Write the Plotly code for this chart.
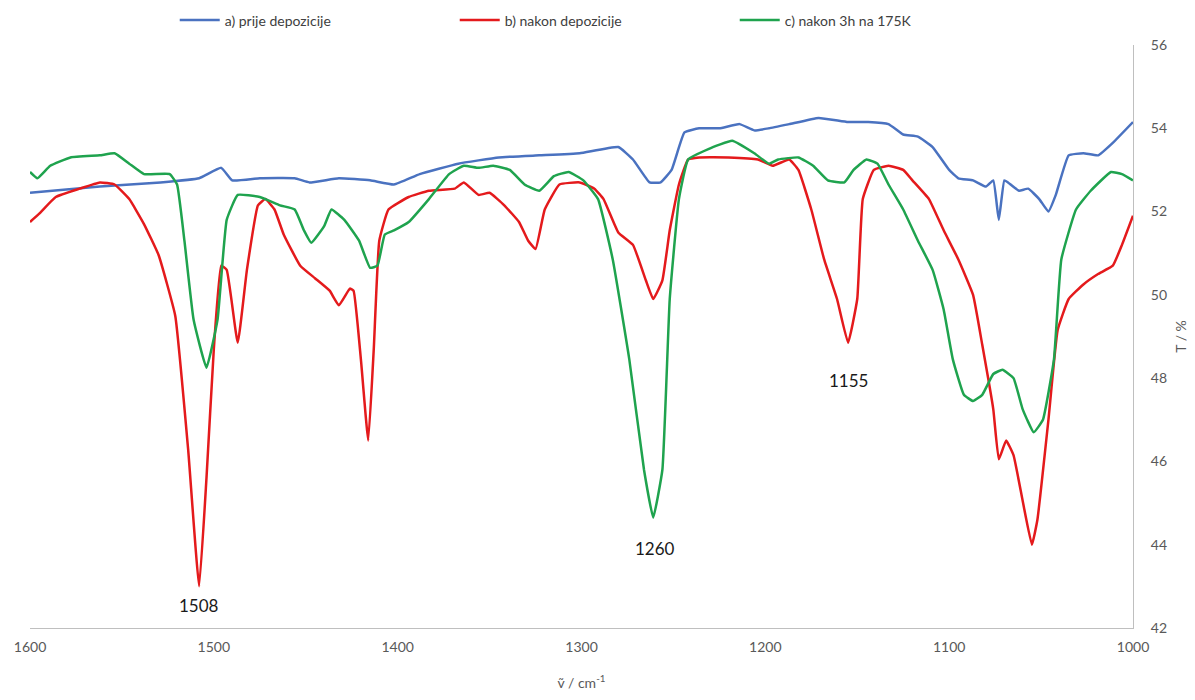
import plotly.graph_objects as go

# a) prije depozicije
wn_a = [1600, 1562, 1529, 1508, 1496, 1490, 1475, 1456, 1448, 1432, 1415, 1402, 1388, 1367, 1345,
        1323, 1301, 1280, 1272, 1263, 1257, 1251, 1244, 1236, 1225, 1214, 1206, 1198, 1187, 1171,
        1155, 1144, 1133, 1125, 1117, 1109, 1100, 1095, 1087, 1080, 1076, 1073, 1070, 1068, 1062,
        1057, 1051, 1046, 1042, 1035, 1027, 1019, 1011, 1000]
t_a = [52.45, 52.6, 52.7, 52.8, 53.05, 52.75, 52.8, 52.8, 52.7, 52.8, 52.75, 52.65, 52.9, 53.15, 53.3,
       53.35, 53.4, 53.55, 53.25, 52.7, 52.7, 53.0, 53.9, 54.0, 54.0, 54.1, 53.95, 54.0, 54.1, 54.25,
       54.15, 54.15, 54.1, 53.85, 53.8, 53.55, 53.0, 52.8, 52.75, 52.6, 52.75, 51.8, 52.75, 52.7, 52.5,
       52.55, 52.3, 52.0, 52.4, 53.35, 53.4, 53.35, 53.65, 54.15]

# b) nakon depozicije
wn_b = [1600, 1595, 1586, 1573, 1562, 1554, 1546, 1538, 1530, 1521, 1514, 1508, 1504, 1500, 1496,
        1493, 1487, 1482, 1476, 1472, 1467, 1462, 1453, 1445, 1437, 1432, 1426, 1424, 1420, 1416,
        1413, 1410, 1405, 1394, 1383, 1369, 1364, 1356, 1350, 1342, 1334, 1329, 1325, 1320, 1312,
        1301, 1293, 1288, 1280, 1272, 1265, 1261, 1256, 1252, 1247, 1242, 1236, 1220, 1204, 1196,
        1187, 1182, 1175, 1168, 1161, 1155, 1150, 1147, 1141, 1133, 1125, 1120, 1111, 1103, 1095,
        1087, 1082, 1076, 1073, 1069, 1065, 1060, 1055, 1052, 1046, 1041, 1035, 1027, 1019, 1011,
        1006, 1000]
t_b = [51.75, 51.95, 52.35, 52.55, 52.7, 52.65, 52.3, 51.7, 50.95, 49.5, 46.3, 43.0, 45.6, 48.7, 50.7,
       50.6, 48.85, 50.6, 52.15, 52.3, 52.05, 51.45, 50.7, 50.4, 50.1, 49.75, 50.15, 50.1, 48.45, 46.5,
       48.7, 51.3, 52.05, 52.35, 52.5, 52.55, 52.7, 52.4, 52.45, 52.15, 51.75, 51.3, 51.1, 52.05, 52.65,
       52.7, 52.55, 52.3, 51.5, 51.2, 50.35, 49.9, 50.35, 51.55, 52.65, 53.25, 53.3, 53.3, 53.25, 53.1,
       53.25, 53.0, 52.05, 50.85, 49.9, 48.85, 49.9, 52.3, 53.0, 53.1, 53.0, 52.75, 52.3, 51.55, 50.85,
       50.0, 48.8, 47.25, 46.05, 46.5, 46.15, 45.05, 44.0, 44.6, 47.0, 49.15, 49.9, 50.25, 50.5, 50.7,
       51.2, 51.9]

# c) nakon 3h na 175K
wn_c = [1600, 1596, 1589, 1578, 1562, 1554, 1546, 1538, 1524, 1520, 1516, 1511, 1504, 1498, 1493,
        1487, 1475, 1464, 1456, 1451, 1447, 1440, 1436, 1429, 1421, 1415, 1411, 1407, 1402, 1394,
        1383, 1372, 1364, 1356, 1348, 1339, 1331, 1323, 1315, 1307, 1299, 1291, 1283, 1274, 1266,
        1261, 1256, 1252, 1247, 1242, 1231, 1218, 1206, 1198, 1193, 1182, 1174, 1166, 1157, 1152,
        1145, 1139, 1133, 1125, 1117, 1109, 1103, 1098, 1092, 1087, 1082, 1076, 1071, 1065, 1060,
        1054, 1049, 1043, 1039, 1031, 1023, 1012, 1006, 1000]
t_c = [52.95, 52.8, 53.1, 53.3, 53.35, 53.4, 53.15, 52.9, 52.9, 52.65, 51.3, 49.4, 48.25, 49.4, 51.8,
       52.4, 52.35, 52.15, 52.05, 51.55, 51.25, 51.65, 52.05, 51.8, 51.3, 50.65, 50.7, 51.45, 51.55, 51.75,
       52.3, 52.9, 53.1, 53.05, 53.1, 53.0, 52.65, 52.5, 52.85, 52.95, 52.75, 52.3, 50.85, 48.45, 45.8,
       44.65, 45.8, 49.9, 52.3, 53.25, 53.5, 53.7, 53.4, 53.15, 53.25, 53.3, 53.1, 52.75, 52.7, 53.0,
       53.25, 53.15, 52.65, 52.05, 51.3, 50.6, 49.65, 48.45, 47.6, 47.45, 47.6, 48.1, 48.2, 48.0, 47.25,
       46.7, 47.0, 48.45, 50.85, 52.05, 52.5, 52.95, 52.9, 52.75]

peak_x = [1508, 1260, 1155]
peak_y = [42.55, 43.9, 47.95]
peak_labels = ["1508", "1260", "1155"]

x_ticks = [1600, 1500, 1400, 1300, 1200, 1100, 1000]
y_ticks = [42, 44, 46, 48, 50, 52, 54, 56]

FONT = "Lato, 'Open Sans', sans-serif"

fig = go.Figure()
fig.add_trace(go.Scatter(x=wn_a, y=t_a, mode="lines", name="a) prije depozicije",
                         line=dict(color="#4a72c0", width=2.5, shape="spline", smoothing=0.35)))
fig.add_trace(go.Scatter(x=wn_b, y=t_b, mode="lines", name="b) nakon depozicije",
                         line=dict(color="#e41a1c", width=2.5, shape="spline", smoothing=0.35)))
fig.add_trace(go.Scatter(x=wn_c, y=t_c, mode="lines", name="c) nakon 3h na 175K",
                         line=dict(color="#1fa34e", width=2.5, shape="spline", smoothing=0.35)))

for px, py, lab in zip(peak_x, peak_y, peak_labels):
    fig.add_annotation(x=px, y=py, text=lab, showarrow=False,
                       font=dict(size=17, color="#1a1a1a", family=FONT))

fig.update_layout(
    width=1187, height=692,
    paper_bgcolor="white", plot_bgcolor="white",
    margin=dict(l=22, r=62, t=37, b=72, autoexpand=False),
    font=dict(family=FONT, color="#595959", size=14),
    showlegend=True,
    legend=dict(orientation="h", x=0.512, xanchor="center", yref="container", y=0.982, yanchor="middle",
                font=dict(size=14, color="#404040"), entrywidth=225, itemwidth=40),
    xaxis=dict(range=[1600, 1000], tickvals=x_ticks, showgrid=False, zeroline=False,
               showline=True, linecolor="#bfbfbf", linewidth=1, ticks="", automargin=False,
               ticklabelstandoff=6,
               title=dict(text="ṽ / cm<sup>-1</sup>", font=dict(size=14, color="#595959"), standoff=24)),
    yaxis=dict(range=[42, 56], tickvals=y_ticks, side="right", showgrid=False, zeroline=False,
               showline=True, linecolor="#bfbfbf", linewidth=1, ticks="", automargin=False,
               ticklabelstandoff=14,
               title=dict(text="T / %", font=dict(size=14, color="#595959"), standoff=10)),
)

fig.write_html("out.html")
